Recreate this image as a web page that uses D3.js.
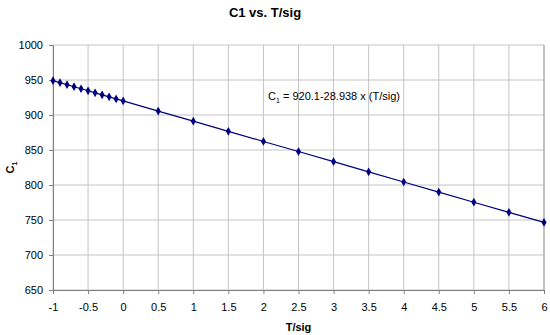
<!DOCTYPE html>
<html>
<head>
<meta charset="utf-8">
<script src="https://cdn.jsdelivr.net/npm/d3@7"></script>
<style>
  body { margin: 0; background: #fff; }
  text { font-family: Arial, "Liberation Sans", sans-serif; }
</style>
</head>
<body>
<div id="container"></div>
<script>
// data
var tsig = [-1, -0.9, -0.8, -0.7, -0.6, -0.5, -0.4, -0.3, -0.2, -0.1, 0,
            0.5, 1, 1.5, 2, 2.5, 3, 3.5, 4, 4.5, 5, 5.5, 6];
var c1 = [949.0, 946.1, 943.3, 940.4, 937.5, 934.6, 931.7, 928.8, 925.9, 923.0, 920.1,
          905.6, 891.2, 876.7, 862.2, 847.8, 833.3, 818.8, 804.3, 789.9, 775.4, 760.9, 746.5];
var xTicks = [-1, -0.5, 0, 0.5, 1, 1.5, 2, 2.5, 3, 3.5, 4, 4.5, 5, 5.5, 6];
var yTicks = [650, 700, 750, 800, 850, 900, 950, 1000];

var width = 550, height = 335;
var margin = {top: 45, right: 6, bottom: 45, left: 53};

var svg = d3.select("#container").append("svg")
    .attr("width", width)
    .attr("height", height);

var x = d3.scaleLinear().domain([-1, 6]).range([margin.left, width - margin.right]);
var y = d3.scaleLinear().domain([650, 1000]).range([height - margin.bottom, margin.top]);

// grid
svg.append("g")
    .selectAll("line.gx")
    .data(xTicks)
    .enter().append("line")
    .attr("x1", function(d) { return x(d); })
    .attr("x2", function(d) { return x(d); })
    .attr("y1", y(650))
    .attr("y2", y(1000))
    .style("stroke", "#c4c4c4")
    .style("stroke-width", 1);

svg.append("g")
    .selectAll("line.gy")
    .data(yTicks)
    .enter().append("line")
    .attr("x1", x(-1))
    .attr("x2", x(6))
    .attr("y1", function(d) { return y(d); })
    .attr("y2", function(d) { return y(d); })
    .style("stroke", "#c4c4c4")
    .style("stroke-width", 1);

// plot frame right side
svg.append("line")
    .attr("x1", x(6)).attr("x2", x(6))
    .attr("y1", y(650)).attr("y2", y(1000))
    .style("stroke", "#a0a0a0");

// axes
var xAxis = svg.append("g")
    .attr("transform", "translate(0," + y(650) + ")")
    .call(d3.axisBottom(x).tickValues(xTicks).tickSize(4).tickPadding(9)
        .tickFormat(function(d) { return d; }));
var yAxis = svg.append("g")
    .attr("transform", "translate(" + x(-1) + ",0)")
    .call(d3.axisLeft(y).tickValues(yTicks).tickSize(4).tickPadding(6)
        .tickFormat(function(d) { return d; }));

[xAxis, yAxis].forEach(function(a) {
    a.select(".domain").style("stroke", "#808080");
    a.selectAll(".tick line").style("stroke", "#808080");
    a.selectAll("text")
        .style("font-family", "Arial, 'Liberation Sans', sans-serif")
        .style("font-size", "11px")
        .style("fill", "#000");
});

// line
var line = d3.line()
    .x(function(d, i) { return x(tsig[i]); })
    .y(function(d) { return y(d); });

svg.append("path")
    .datum(c1)
    .attr("d", line)
    .style("fill", "none")
    .style("stroke", "#000080")
    .style("stroke-width", 1.2);

// diamond markers
svg.append("g")
    .selectAll("path")
    .data(c1)
    .enter().append("path")
    .attr("d", d3.symbol().type(d3.symbolDiamond).size(22))
    .attr("transform", function(d, i) { return "translate(" + x(tsig[i]) + "," + y(d) + ")"; })
    .style("fill", "#000080");

// titles
svg.append("text")
    .attr("x", 265)
    .attr("y", 17)
    .attr("text-anchor", "middle")
    .style("font-size", "13px")
    .style("font-weight", "bold")
    .text("C1 vs. T/sig");

svg.append("text")
    .attr("x", (x(-1) + x(6)) / 2)
    .attr("y", 331)
    .attr("text-anchor", "middle")
    .style("font-size", "11px")
    .style("font-weight", "bold")
    .text("T/sig");

var yl = svg.append("text")
    .attr("transform", "translate(14," + ((y(650) + y(1000)) / 2) + ") rotate(-90)")
    .attr("text-anchor", "middle")
    .style("font-size", "11px")
    .style("font-weight", "bold");
yl.append("tspan").text("C");
yl.append("tspan").attr("dy", 3).style("font-size", "7px").text("1");

// equation
var eq = svg.append("text")
    .attr("x", 268)
    .attr("y", 100)
    .style("font-size", "11px");
eq.append("tspan").text("C");
eq.append("tspan").attr("dy", 3).style("font-size", "7px").text("1");
eq.append("tspan").attr("dy", -3).text(" = 920.1-28.938 x (T/sig)");
</script>
</body>
</html>
